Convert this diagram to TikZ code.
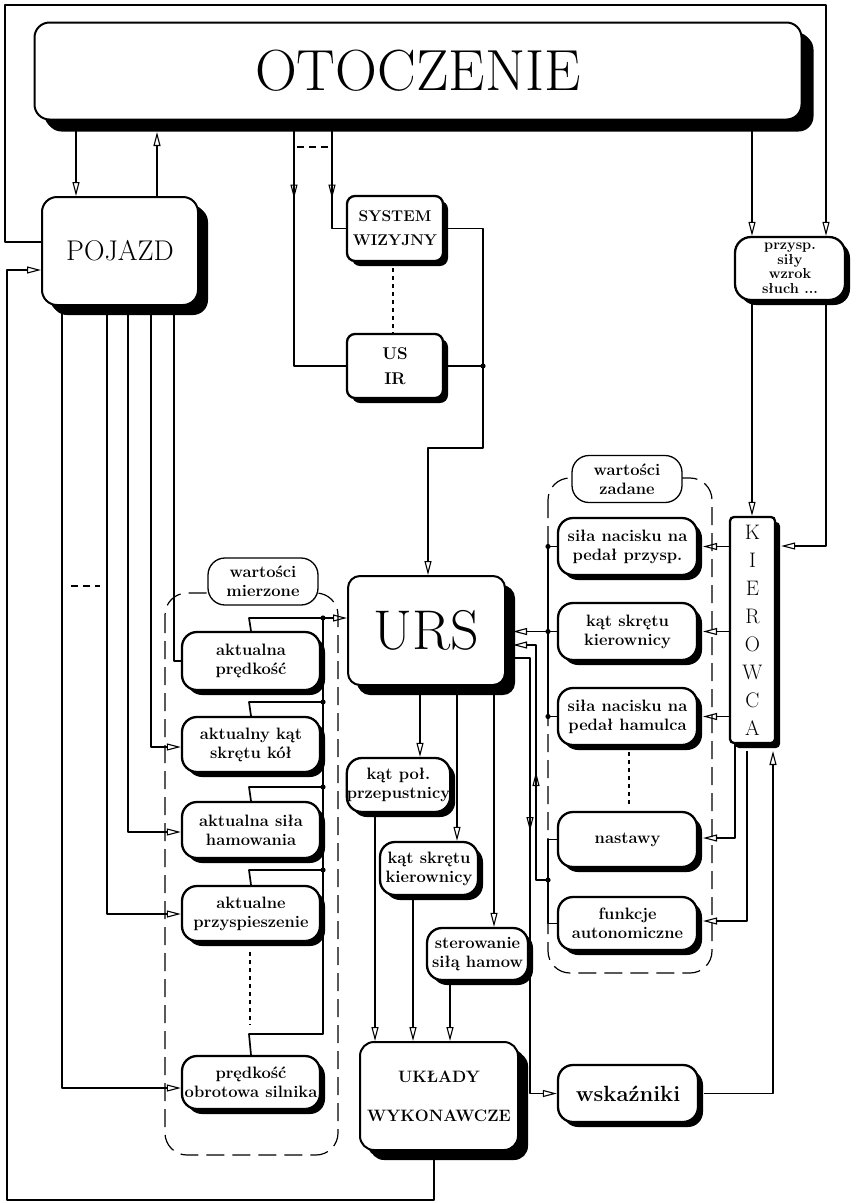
\documentclass[tikz,border=0pt]{standalone}
\usepackage{fontspec}
\usetikzlibrary{arrows.meta,shadows,decorations.markings}

\tikzset{
  >={Triangle[open,length=14pt,width=7pt,line width=1.1pt]},
  conn/.style={line width=1.7pt, line join=round},
  frame/.style={line width=1.1pt, line join=round},
  shadowed/.style={drop shadow={shadow xshift=#1,shadow yshift=-#1,opacity=1,fill=black}},
  bigbox/.style={draw, line width=2pt, fill=white, rounded corners=15pt,
    shadowed=10pt, inner sep=0pt, align=center},
  sbox/.style={draw, line width=2.3pt, fill=white, rounded corners=15pt,
    shadowed=5pt, inner sep=0pt, align=center,
    font=\fontsize{16.5}{19}\selectfont\bfseries},
  tag/.style={draw, line width=1.3pt, fill=white, rounded corners=17pt,
    inner sep=0pt, align=center, minimum width=110pt, minimum height=47pt,
    font=\fontsize{16.5}{19}\selectfont\bfseries},
  group/.style={line width=1.2pt, dash pattern=on 18pt off 8pt, rounded corners=22pt},
  dotline/.style={line width=1.2pt, dash pattern=on 4pt off 4pt},
  shortdash/.style={line width=1.2pt, dash pattern=on 7pt off 5pt},
  midarrow/.style={postaction={decorate}, decoration={markings,
    mark=at position #1 with {\arrow{>}}}},
  mbox/.style={sbox, minimum width=138pt},
  zbox/.style={sbox, minimum width=139pt},
}

\begin{document}
\begin{tikzpicture}[x=1pt,y=-1pt]
\useasboundingbox (0,0) rectangle (855,1203);

% dashed groups behind everything
\draw[group] (165,593) rectangle (338,1155);
\draw[group] (548,478) rectangle (712,973);
\node[tag] (WM) at (263,581.5) {wartości\\mierzone};
\node[tag] (WZ) at (627,479) {wartości\\zadane};

% main blocks
\node[bigbox, shadowed=12pt, minimum width=767pt, minimum height=97pt,
  font=\fontsize{58}{62}\selectfont] (OT) at (418,71) {OTOCZENIE};
\node[bigbox, shadowed=8pt, minimum width=156pt, minimum height=108pt,
  font=\fontsize{28.5}{30}\selectfont] (PO) at (120,251) {POJAZD};
\node[sbox, rounded corners=8pt, minimum width=96pt, minimum height=65pt,
  font=\fontsize{15.5}{24}\selectfont\bfseries] (SW) at (395,228.5) {SYSTEM\\WIZYJNY};
\node[sbox, rounded corners=8pt, minimum width=96pt, minimum height=64pt,
  font=\fontsize{17}{25}\selectfont\bfseries] (US) at (395,366) {US\\IR};
\node[sbox, rounded corners=16pt, minimum width=110pt, minimum height=63pt,
  font=\fontsize{14.5}{14.5}\selectfont\bfseries] (PR) at (790,268.5) {przysp.\\siły\\wzrok\\słuch ...};
\node[sbox, rounded corners=4pt, minimum width=45pt, minimum height=226pt,
  font=\fontsize{21}{28}\selectfont] (KI) at (752.5,630) {K\\I\\E\\R\\O\\W\\C\\A};
\node[bigbox, shadowed=9pt, rounded corners=12pt, minimum width=157pt, minimum height=109pt,
  font=\fontsize{56}{60}\selectfont] (URS) at (426.5,630.5) {URS};
\node[bigbox, shadowed=7pt, rounded corners=14pt, minimum width=158pt, minimum height=108pt,
  font=\fontsize{16.5}{39}\selectfont\bfseries] (UW) at (439,1096) {UKŁADY\\WYKONAWCZE};

% measured values
\node[mbox, minimum height=58pt] (M1) at (251,661) {aktualna\\prędkość};
\node[mbox, minimum height=55pt] (M2) at (251,744.5) {aktualny kąt\\skrętu kół};
\node[mbox, minimum height=56pt] (M3) at (251,830) {aktualna siła\\hamowania};
\node[mbox, minimum height=55pt] (M4) at (251,913.5) {aktualne\\przyspieszenie};
\node[mbox, minimum height=53pt] (M5) at (251,1082.5) {prędkość\\obrotowa silnika};

% set values
\node[zbox, minimum height=57pt] (Z1) at (627.5,546.5) {siła nacisku na\\pedał przysp.};
\node[zbox, minimum height=57pt] (Z2) at (627.5,631.5) {kąt skrętu\\kierownicy};
\node[zbox, minimum height=57pt] (Z3) at (627.5,716.5) {siła nacisku na\\pedał hamulca};
\node[zbox, minimum height=55pt] (Z4) at (627.5,839.5) {nastawy};
\node[zbox, minimum height=53pt] (Z5) at (627.5,923.5) {funkcje\\autonomiczne};
\node[sbox, minimum width=140pt, minimum height=57pt,
  font=\fontsize{22}{24}\selectfont\bfseries] (WS) at (628,1093.5) {wskaźniki};

% control outputs
\node[sbox, minimum width=103pt, minimum height=54pt] (K1) at (398.5,785) {kąt poł.\\przepustnicy};
\node[sbox, minimum width=98pt, minimum height=53pt] (K2) at (429,868.5) {kąt skrętu\\kierownicy};
\node[sbox, minimum width=101pt, minimum height=52pt] (K3) at (477.5,954) {sterowanie\\siłą hamow};

% reference levels below shadows
\coordinate (OTs) at (0,132);
\coordinate (URSr) at (513,0);
\coordinate (Zr) at (703,0);
\coordinate (KIb) at (0,751);

% environment <-> vehicle
\draw[conn,->] (76,0 |- OT.south) -- (76,0 |- PO.north);
\draw[conn,->] (157,0 |- PO.north) -- (157,0 |- OTs);
% environment -> sensors
\draw[conn,midarrow=78pt] (294,0 |- OT.south) -- (294,0 |- US.west) -- (US.west);
\draw[conn,midarrow=78pt] (332,0 |- OT.south) -- (332,0 |- SW.west) -- (SW.west);
\draw[shortdash] (297,147) -- (330,147);
% environment -> driver senses
\draw[conn,->] (752,0 |- OT.south) -- (752,0 |- PR.north);
% vehicle state seen by the driver
\draw[frame,->] (PO.west |- 0,242) -- (5,242) -- (5,5) -- (826,5) -- (826,0 |- PR.north);
\draw[frame,->] (752,0 |- PR.south) -- (752,0 |- KI.north);
\draw[frame,->] (826,0 |- PR.south) -- (826,546) -- ([xshift=5pt]KI.east |- 0,546);
% actuators act on the vehicle
\draw[conn,->] (434,0 |- UW.south) -- (434,1200) -- (7,1200) -- (7,270) -- (PO.west |- 0,270);

% vehicle -> measured values
\draw[conn,->] (62,0 |- PO.south) -- (62,1088) -- (M5.west |- 0,1088);
\draw[conn,->] (107,0 |- PO.south) -- (107,914) -- (M4.west |- 0,914);
\draw[conn,->] (128,0 |- PO.south) -- (128,832) -- (M3.west |- 0,832);
\draw[conn,->] (151,0 |- PO.south) -- (151,747) -- (M2.west |- 0,747);
\draw[conn] (174,0 |- PO.south) -- (174,661) -- (M1.west);
\draw[shortdash] (71,586) -- (100,586);

% measured values -> URS
\draw[conn] (M1.north) -- (249,618) -- (323,618);
\draw[conn] (M2.north) -- (249,702) -- (323,702);
\draw[conn] (M3.north) -- (249,787) -- (323,787);
\draw[conn] (M4.north) -- (249,870) -- (323,870);
\draw[conn,->] (M5.north) -- (249,1034) -- (323,1034) -- (323,618) -- (URS.west |- 0,618);
\foreach \yy in {618,702,787,870} \fill (323,\yy) circle (2.6pt);
\draw[dotline] (250,952) -- (250,1025);

% sensors -> URS
\draw[conn,->] (SW.east) -- (483,0 |- SW.east) -- (483,448) -- (428,448) -- (428,0 |- URS.north);
\draw[conn] (US.east) -- (483,0 |- US.east);
\fill (483,366) circle (2.6pt);
\draw[dotline] (393,268) -- (393,334);

% URS -> control outputs -> actuators
\draw[conn,->] (420,0 |- URS.south) -- (420,0 |- K1.north);
\draw[conn,->] (457,0 |- URS.south) -- (457,0 |- K2.north);
\draw[conn,->] (494,0 |- URS.south) -- (494,0 |- K3.north);
\draw[conn,->] (375,0 |- K1.south) -- (375,0 |- UW.north);
\draw[conn,->] (413,0 |- K2.south) -- (413,0 |- UW.north);
\draw[conn,->] (450,0 |- K3.south) -- (450,0 |- UW.north);

% set values -> URS
\draw[conn] (Z1.west) -- (548,0 |- Z1.west) -- (548,0 |- Z3.west) -- (Z3.west);
\draw[conn,->] (Z2.west) -- (URSr |- Z2.west);
\foreach \yy in {546.5,631.5,716.5} \fill (548,\yy) circle (2.6pt);
\draw[conn] (Z4.west) -- (548,0 |- Z4.west) -- (548,0 |- Z5.west) -- (Z5.west);
\draw[conn,->,midarrow=120pt] (548,880) -- (536,880) -- (536,645) -- (URSr |- 0,645);
\fill (548,880) circle (2.6pt);
\draw[dotline] (629,752) -- (629,805);

% URS -> indicators -> driver
\draw[conn,->,midarrow=190pt] (URSr |- 0,658) -- (530,658) -- (530,0 |- WS.west) -- (WS.west);
\draw[conn,->] ([xshift=5pt]WS.east) -- (773,0 |- WS.east) -- (773,0 |- KIb);

% driver -> set values
\draw[conn,->] (KI.west |- Z1.east) -- (Zr |- Z1.east);
\draw[conn,->] (KI.west |- Z2.east) -- (Zr |- Z2.east);
\draw[conn,->] (KI.west |- Z3.east) -- (Zr |- Z3.east);
\draw[conn,->] (735,0 |- KI.south) -- (735,838) -- (Zr |- 0,838);
\draw[conn,->] (747,0 |- KIb) -- (747,921) -- (Zr |- 0,921);
\end{tikzpicture}
\end{document}
